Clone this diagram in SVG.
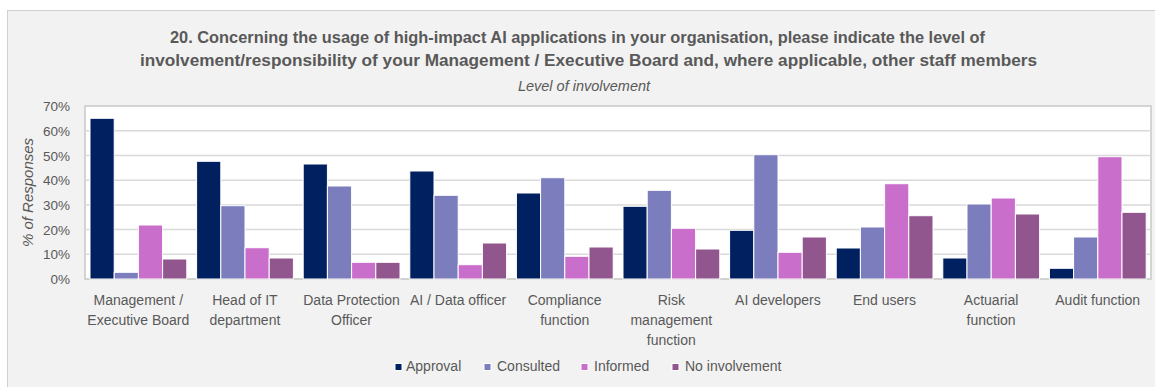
<svg xmlns="http://www.w3.org/2000/svg" width="1155" height="387" viewBox="0 0 1155 387">
<style>
.t{font-family:"Liberation Sans",Arial,sans-serif;fill:#595959}
.title{font-size:16.5px;font-weight:bold}
.sub{font-size:14.5px;font-style:italic}
.tick{font-size:13.5px;text-anchor:end}
.cat{font-size:14px;text-anchor:middle}
.leg{font-size:14px}
.grid{stroke:#d9d9d9;stroke-width:1.5}
.a{fill:#002060}
.c{fill:#7b7dbd}
.i{fill:#c96fcb}
.n{fill:#92568f}
.bars rect{stroke:#ffffff;stroke-width:1}
</style>
<rect x="7.5" y="10.5" width="1160" height="390" fill="#f2f2f2" stroke="#d0d0d0" stroke-width="1"/>
<g id="title">
<text class="t title" x="170" y="43" textLength="815" lengthAdjust="spacingAndGlyphs">20. Concerning the usage of high-impact AI applications in your organisation, please indicate the level of</text>
<text class="t title" x="140" y="66" textLength="897" lengthAdjust="spacingAndGlyphs">involvement/responsibility of your Management / Executive Board and, where applicable, other staff members</text>
<text class="t sub" x="584" y="91" text-anchor="middle">Level of involvement</text>
</g>
<g id="plot">
<rect x="85" y="106" width="1066" height="173" fill="#ffffff" stroke="#c8c8c8" stroke-width="1.5"/>
<line class="grid" x1="85" y1="254.3" x2="1151" y2="254.3"/>
<line class="grid" x1="85" y1="229.6" x2="1151" y2="229.6"/>
<line class="grid" x1="85" y1="204.9" x2="1151" y2="204.9"/>
<line class="grid" x1="85" y1="180.2" x2="1151" y2="180.2"/>
<line class="grid" x1="85" y1="155.5" x2="1151" y2="155.5"/>
<line class="grid" x1="85" y1="130.8" x2="1151" y2="130.8"/>
<line x1="85" y1="279" x2="1151" y2="279" stroke="#d0d0d0" stroke-width="1.5"/>
</g>
<g id="yaxis">
<text class="t tick" x="70" y="284">0%</text>
<text class="t tick" x="70" y="259.3">10%</text>
<text class="t tick" x="70" y="234.6">20%</text>
<text class="t tick" x="70" y="209.9">30%</text>
<text class="t tick" x="70" y="185.2">40%</text>
<text class="t tick" x="70" y="160.5">50%</text>
<text class="t tick" x="70" y="135.8">60%</text>
<text class="t tick" x="70" y="111.1">70%</text>
<text class="t sub" style="font-size:15px" transform="translate(33,192.5) rotate(-90)" text-anchor="middle">% of Responses</text>
</g>
<g id="bars" class="bars">
<g id="approval">
<rect class="a" x="90" y="118.3" width="24.2" height="160.7"/>
<rect class="a" x="196.6" y="161.3" width="24.2" height="117.7"/>
<rect class="a" x="303.2" y="164" width="24.2" height="115"/>
<rect class="a" x="409.8" y="171" width="24.2" height="108"/>
<rect class="a" x="516.4" y="193" width="24.2" height="86"/>
<rect class="a" x="623" y="206.3" width="24.2" height="72.7"/>
<rect class="a" x="729.6" y="230.3" width="24.2" height="48.7"/>
<rect class="a" x="836.2" y="248" width="24.2" height="31"/>
<rect class="a" x="942.8" y="258" width="24.2" height="21"/>
<rect class="a" x="1049.4" y="268.3" width="24.2" height="10.7"/>
</g>
<g id="consulted">
<rect class="c" x="114.2" y="272.3" width="24.2" height="6.7"/>
<rect class="c" x="220.8" y="205.7" width="24.2" height="73.3"/>
<rect class="c" x="327.4" y="186" width="24.2" height="93"/>
<rect class="c" x="434" y="195.3" width="24.2" height="83.7"/>
<rect class="c" x="540.6" y="177.7" width="24.2" height="101.3"/>
<rect class="c" x="647.2" y="190.3" width="24.2" height="88.7"/>
<rect class="c" x="753.8" y="154.7" width="24.2" height="124.3"/>
<rect class="c" x="860.4" y="227" width="24.2" height="52"/>
<rect class="c" x="967" y="204" width="24.2" height="75"/>
<rect class="c" x="1073.6" y="237" width="24.2" height="42"/>
</g>
<g id="informed">
<rect class="i" x="138.4" y="225" width="24.2" height="54"/>
<rect class="i" x="245" y="247.7" width="24.2" height="31.3"/>
<rect class="i" x="351.6" y="262.3" width="24.2" height="16.7"/>
<rect class="i" x="458.2" y="264.7" width="24.2" height="14.3"/>
<rect class="i" x="564.8" y="256.3" width="24.2" height="22.7"/>
<rect class="i" x="671.4" y="228.3" width="24.2" height="50.7"/>
<rect class="i" x="778" y="252.3" width="24.2" height="26.7"/>
<rect class="i" x="884.6" y="183.7" width="24.2" height="95.3"/>
<rect class="i" x="991.2" y="198" width="24.2" height="81"/>
<rect class="i" x="1097.8" y="156.7" width="24.2" height="122.3"/>
</g>
<g id="noinvolvement">
<rect class="n" x="162.6" y="259" width="24.2" height="20"/>
<rect class="n" x="269.2" y="258" width="24.2" height="21"/>
<rect class="n" x="375.8" y="262.3" width="24.2" height="16.7"/>
<rect class="n" x="482.4" y="243" width="24.2" height="36"/>
<rect class="n" x="589" y="247" width="24.2" height="32"/>
<rect class="n" x="695.6" y="249" width="24.2" height="30"/>
<rect class="n" x="802.2" y="237" width="24.2" height="42"/>
<rect class="n" x="908.8" y="215.7" width="24.2" height="63.3"/>
<rect class="n" x="1015.4" y="214" width="24.2" height="65"/>
<rect class="n" x="1122" y="212.3" width="24.2" height="66.7"/>
</g>
</g>
<g id="categories">
<text class="t cat" x="138.3" y="305">Management /<tspan x="138.3" dy="20">Executive Board</tspan></text>
<text class="t cat" x="244.9" y="305">Head of IT<tspan x="244.9" dy="20">department</tspan></text>
<text class="t cat" x="351.5" y="305">Data Protection<tspan x="351.5" dy="20">Officer</tspan></text>
<text class="t cat" x="458.1" y="305">AI / Data officer</text>
<text class="t cat" x="564.7" y="305">Compliance<tspan x="564.7" dy="20">function</tspan></text>
<text class="t cat" x="671.3" y="305">Risk<tspan x="671.3" dy="20">management</tspan><tspan x="671.3" dy="20">function</tspan></text>
<text class="t cat" x="777.9" y="305">AI developers</text>
<text class="t cat" x="884.5" y="305">End users</text>
<text class="t cat" x="991.1" y="305">Actuarial<tspan x="991.1" dy="20">function</tspan></text>
<text class="t cat" x="1097.7" y="305">Audit function</text>
</g>
<g id="legend">
<rect class="a" x="395" y="363.5" width="7" height="7" stroke="#fff" stroke-width="1"/>
<text class="t leg" x="406" y="371">Approval</text>
<rect class="c" x="484" y="363.5" width="7" height="7" stroke="#fff" stroke-width="1"/>
<text class="t leg" x="497" y="371">Consulted</text>
<rect class="i" x="581" y="363.5" width="7" height="7" stroke="#fff" stroke-width="1"/>
<text class="t leg" x="594" y="371">Informed</text>
<rect class="n" x="672" y="363.5" width="7" height="7" stroke="#fff" stroke-width="1"/>
<text class="t leg" x="685" y="371">No involvement</text>
</g>
</svg>
